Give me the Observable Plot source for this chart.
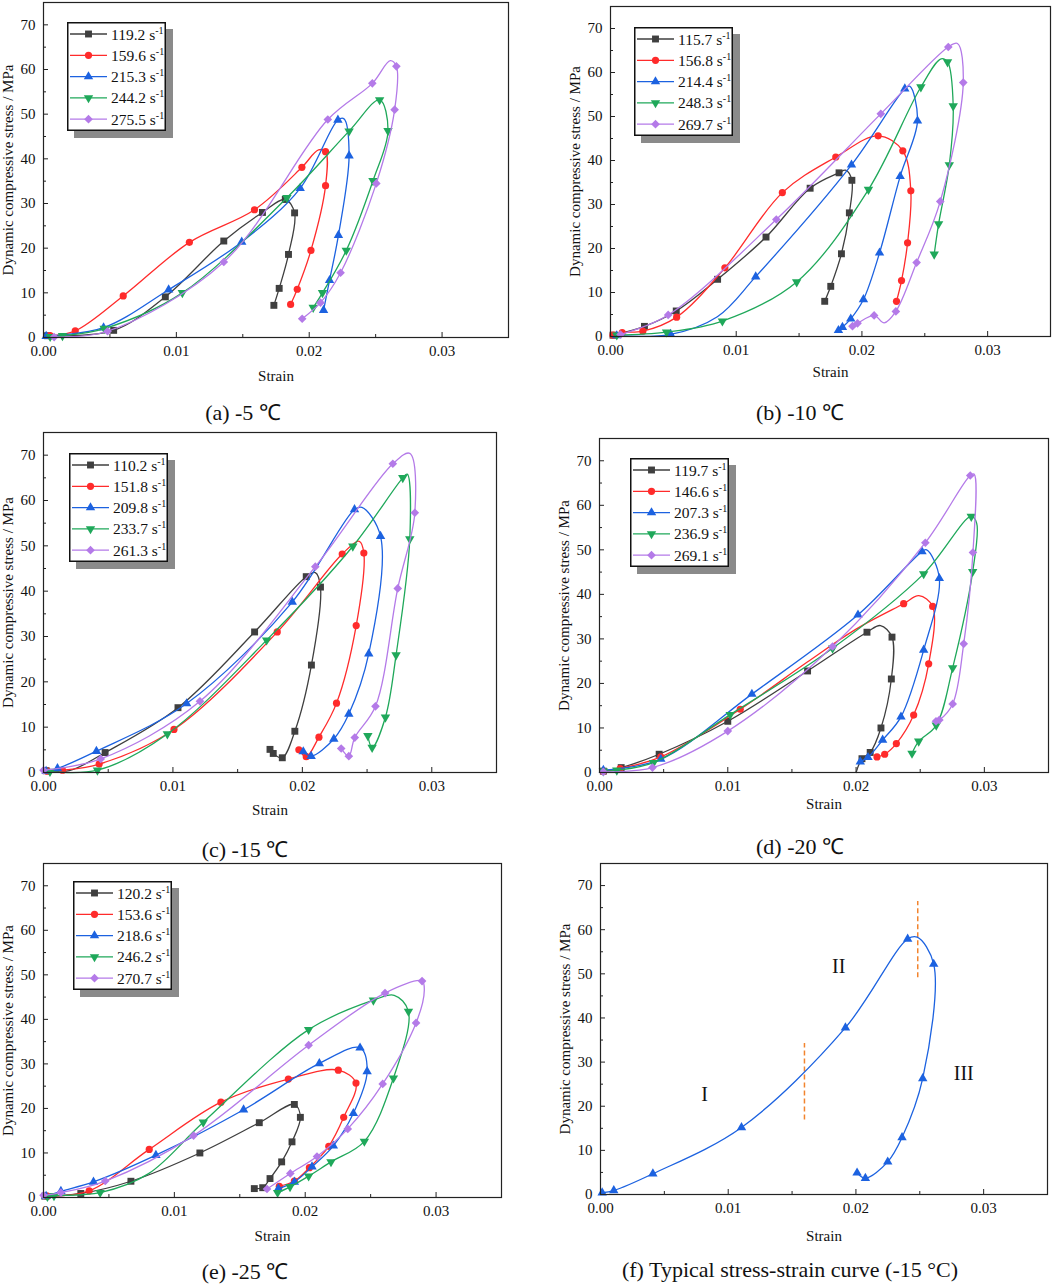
<!DOCTYPE html>
<html><head><meta charset="utf-8">
<script src="https://cdn.jsdelivr.net/npm/d3@7"></script>
<script src="https://cdn.jsdelivr.net/npm/@observablehq/plot@0.6"></script>
<style>
body{margin:0;background:#fff;}
#root{position:relative;width:1052px;height:1284px;overflow:hidden;font-family:"Liberation Serif","Times New Roman",serif;}
.panel{position:absolute;}
.cap{position:absolute;font-size:22px;white-space:nowrap;transform:translate(-50%,-50%);color:#111;}
.legend{position:absolute;overflow:visible;}
</style></head><body><div id="root"></div>
<script>
// ---- data: [strain, stress] = marked point, [strain, stress, 0] = curve-only point ----
const rates_a = ["119.2","159.6","215.3","244.2","275.5"];
const curves_a = [
 [[0.0003,0.4],[0.00528,1.6],[0.00917,9.1],[0.01357,21.6],[0.01648,28.0],[0.0182,30.9],[0.0189,27.9],[0.01844,18.6],[0.01774,11.0],[0.01734,7.2]],
 [[0.0005,0.4],[0.00239,1.5],[0.0060,9.3],[0.01098,21.3],[0.01588,28.6],[0.01945,38.1],[0.0207,42.0,0],[0.02123,41.6],[0.02123,34.0],[0.02013,19.5],[0.0191,10.8],[0.0186,7.4]],
 [[0.0002,0.3],[0.00452,2.2],[0.00942,10.7],[0.01492,21.4],[0.01932,33.4],[0.02216,48.7],[0.0226,49.0,0],[0.0230,40.7],[0.0222,22.9],[0.02153,12.8],[0.02108,6.1]],
 [[0.0005,0.2],[0.00143,0.4],[0.00457,2.0],[0.01045,10.0],[0.01832,31.3],[0.0230,46.2],[0.0253,53.2],[0.02593,46.3],[0.0248,35.1],[0.02279,19.5],[0.0210,10.0],[0.0203,6.7]],
 [[0.0008,0.1],[0.00482,1.4],[0.01357,16.9],[0.0214,48.8],[0.02475,56.9],[0.0261,62.0,0],[0.02656,60.7],[0.02643,51.0],[0.02505,34.5],[0.02236,14.5],[0.02085,7.8],[0.01947,4.2]]
];
const rates_b = ["115.7","156.8","214.4","248.3","269.7"];
const curves_b = [
 [[0.0002,0.3],[0.0027,2.3],[0.00523,5.8],[0.00852,13.0],[0.01237,22.6],[0.01588,33.7],[0.01818,37.2],[0.0187,37.8,0],[0.0192,35.5],[0.0190,28.1],[0.01837,18.8],[0.01752,11.4],[0.01704,8.0]],
 [[0.0002,0.3],[0.00093,0.9],[0.00257,1.2],[0.00526,4.4],[0.0091,15.6],[0.01367,32.7],[0.01792,40.8],[0.02129,45.6],[0.02325,42.2],[0.02389,33.1],[0.02363,21.3],[0.02315,12.7],[0.02275,8.0]],
 [[0.0005,0.2],[0.00478,0.5],[0.0085,4.5,0],[0.01155,13.6],[0.01917,39.0],[0.02341,56.3],[0.0238,56.9,0],[0.02442,49.0],[0.02304,36.4],[0.0214,19.0],[0.02012,8.4],[0.01911,4.0],[0.01845,2.1],[0.01813,1.4]],
 [[0.0005,0.3],[0.00446,1.0],[0.0089,3.5],[0.01481,12.4],[0.02052,33.4],[0.02469,56.7],[0.0263,63.1,0],[0.02681,62.4],[0.02726,52.4],[0.02695,39.0],[0.0261,25.6],[0.02575,18.7]],
 [[0.0008,0.45],[0.00459,4.9],[0.01319,26.6],[0.0215,50.6],[0.02687,65.8],[0.0276,66.6,0],[0.02806,57.7],[0.02623,30.7],[0.02435,16.8],[0.0227,5.7],[0.02177,3.1,0],[0.02097,4.8],[0.01965,3.0],[0.01925,2.35]]
];
const rates_c = ["110.2","151.8","209.8","233.7","261.3"];
const curves_c = [
 [[0.0002,0.4],[0.002,0.4,0],[0.00476,4.4],[0.01039,14.3],[0.01631,31.0],[0.0203,43.2],[0.0210,44.1,0],[0.0214,40.9],[0.0207,23.7],[0.01942,9.1],[0.01845,3.25],[0.01775,4.2],[0.0175,5.1]],
 [[0.0003,0.3],[0.00147,0.5],[0.0043,1.85],[0.01008,9.5],[0.01806,31.0],[0.02308,48.2],[0.0244,51.0,0],[0.02475,48.4],[0.02416,32.4],[0.02264,15.3],[0.02128,7.8],[0.0203,3.5],[0.01973,5.0]],
 [[0.0002,0.3],[0.00108,0.9],[0.00409,4.7],[0.01106,15.2],[0.01922,37.6],[0.02403,58.0],[0.0246,58.5,0],[0.02604,52.1],[0.02513,26.2],[0.02359,12.9],[0.02243,7.4],[0.02068,3.6],[0.02007,4.6]],
 [[0.0005,0.2],[0.00417,0.5],[0.00957,8.5],[0.01724,29.2],[0.0239,49.9],[0.02776,65.0],[0.0281,65.8,0],[0.0283,51.5],[0.02724,25.9],[0.02642,12.2],[0.02539,5.5],[0.02506,8.1]],
 [[0.0,0.5],[0.00442,3.0],[0.01209,15.7],[0.0210,45.4],[0.02699,68.1],[0.0283,70.4,0],[0.02869,57.3],[0.02737,40.6],[0.02565,14.6],[0.02405,7.7],[0.02359,3.6],[0.023,5.3]]
];
const rates_d = ["119.7","146.6","207.3","236.9","269.1"];
const curves_d = [
 [[0.0003,0.3],[0.00169,1.1],[0.00465,4.1],[0.0100,11.5],[0.01622,22.8],[0.02085,31.5],[0.0219,33.0,0],[0.0228,30.4],[0.02275,21.0],[0.02194,10.0],[0.0211,4.5],[0.02046,3.1],[0.0200,0,0]],
 [[0.0003,0.3],[0.00161,0.9],[0.00478,3.5],[0.01097,14.2],[0.0162,24.8,0],[0.0200,32.2,0],[0.02371,37.9],[0.0249,39.7,0],[0.02597,37.3],[0.02566,24.4],[0.02449,12.9],[0.02314,6.5],[0.02223,4.1],[0.02163,3.5]],
 [[0.0003,0.5],[0.00478,3.0],[0.01188,17.6],[0.02015,35.4],[0.02514,49.6],[0.0255,50.0,0],[0.02649,43.6],[0.02527,27.5],[0.0235,12.5],[0.02207,7.3],[0.02093,3.4],[0.02033,2.4]],
 [[0.0003,0.3],[0.00135,0.5],[0.00421,2.2],[0.01019,13.0],[0.01817,27.9],[0.02527,44.6],[0.02898,57.5],[0.0294,56.0,0],[0.02909,45.1],[0.02753,23.5],[0.02625,10.6],[0.02488,7.0],[0.02436,4.3]],
 [[0.0003,0.15],[0.00413,1.1],[0.0100,9.3],[0.01817,28.3],[0.0254,51.6],[0.0289,66.7],[0.0292,67.0,0],[0.02911,49.4],[0.02839,28.9],[0.02753,15.4],[0.02649,11.8],[0.02623,11.5]]
];
const rates_e = ["120.2","153.6","218.6","246.2","270.7"];
const curves_e = [
 [[0.0001,0.3],[0.00285,0.9],[0.00668,3.65],[0.01195,10.0],[0.01649,16.8],[0.01917,20.9],[0.01963,18.0],[0.01899,12.5],[0.0182,8.0],[0.01731,4.25],[0.01675,2.2],[0.01611,2.0]],
 [[0.0003,0.3],[0.00349,1.5],[0.00808,10.8],[0.01356,21.4],[0.01871,26.6],[0.02253,28.6],[0.02388,25.7],[0.02294,18.0],[0.0218,11.5],[0.02032,6.7],[0.01917,3.7],[0.01802,2.5]],
 [[0.0002,0.3],[0.00133,1.4],[0.00382,3.5],[0.00859,9.5],[0.01529,19.7],[0.02108,30.1],[0.02419,33.6],[0.02473,28.3],[0.02368,18.9],[0.02215,11.6],[0.02052,6.9],[0.01917,3.5],[0.01795,2.0]],
 [[0.0003,0.2],[0.0008,0.4],[0.00433,1.1],[0.0080,5.3,0],[0.01221,16.9],[0.02026,37.7],[0.02521,44.3],[0.0268,45.4,0],[0.02789,41.8],[0.02674,26.8],[0.02452,12.6],[0.02197,8.0],[0.02026,4.8],[0.01884,2.4],[0.01789,1.1]],
 [[0.0,0.5],[0.00133,1.1],[0.00472,3.7],[0.01147,13.9],[0.02026,34.2],[0.0261,45.9],[0.02893,48.6],[0.0291,46.5,0],[0.02847,39.2],[0.02592,25.5],[0.02325,15.4],[0.0209,9.2],[0.01886,5.4],[0.01708,1.9]]
];
const curve_f = [[0.00013,0.4],[0.00104,0.9],[0.0041,4.7],[0.01104,15.2],[0.01918,37.8],[0.02405,57.9],[0.0248,58.3,0],[0.02609,52.2],[0.02523,26.3],[0.02361,12.9],[0.02249,7.4],[0.02074,3.7],[0.02009,4.9]];
const dividers_f = [[0.01597,16.9,34.2],[0.02484,49.1,66.4]];
const stages_f = [["I",0.00814,22.7],["II",0.01865,51.7],["III",0.02844,27.5]];
const captions = ["(a) -5 \u2103","(b) -10 \u2103","(c) -15 \u2103","(d) -20 \u2103","(e) -25 \u2103","(f) Typical stress-strain curve (-15 \u00b0C)"];
const xMajor = [0, 0.01, 0.02, 0.03];
const xMinor = [0.005, 0.015, 0.025];
const yMajor = [0,10,20,30,40,50,60,70];
const yMinor = [5,15,25,35,45,55,65];
const xLabel = "Strain";
const yLabel = "Dynamic compressive stress / MPa";

// ---- styles ----
const triDown = {draw(ctx, size){const y = Math.sqrt(size/(Math.sqrt(3)*3)); const s3 = Math.sqrt(3); ctx.moveTo(0, 2*y); ctx.lineTo(-s3*y, -y); ctx.lineTo(s3*y, -y); ctx.closePath();}};
const colors = ["#3f3f3f","#ff2b2b","#1c62e0","#1fa85a","#b47ae8"];
const symbols = ["square","circle","triangle",triDown,"diamond2"];
const d3symbols = [d3.symbolSquare, d3.symbolCircle, d3.symbolTriangle, triDown, d3.symbolDiamond2];
const radii = [3.9,3.6,3.5,3.5,3.9];
const FONT = '"Liberation Serif","Times New Roman",serif';

const layout = [
 {sx:0,   sy:0,   w:515, h:390, ml:43, mt:2,  mr:7,  mb:53, xl:38.5},
 {sx:540, sy:0,   w:512, h:390, ml:70, mt:6,  mr:2,  mb:54, xl:36},
 {sx:0,   sy:425, w:515, h:395, ml:43, mt:7,  mr:19, mb:48, xl:38},
 {sx:540, sy:425, w:512, h:395, ml:59, mt:13, mr:4,  mb:48, xl:32},
 {sx:0,   sy:855, w:515, h:395, ml:43, mt:8,  mr:14, mb:53, xl:39},
 {sx:540, sy:855, w:512, h:395, ml:60, mt:8,  mr:5,  mb:56, xl:42}
];
const legendPos = [[67,22],[634,27],[69,453],[630,458],[73,881]];
const capPos = [[243,411],[800,411],[245,848],[800,845],[245,1270],[790,1270]];

const root = document.getElementById("root");
const X = d => d[0], Y = d => d[1];

function seriesMarks(curve, i){
  return [
    Plot.line(curve, {x: X, y: Y, stroke: colors[i], strokeWidth: 1.3, curve: "catmull-rom"}),
    Plot.dot(curve.filter(d => d[2] !== 0), {x: X, y: Y, symbol: symbols[i], r: radii[i], fill: colors[i], stroke: "none"})
  ];
}

function panel(k, curves, extra){
  const L = layout[k];
  const marks = [
    Plot.axisX({ticks: xMajor, tickSize: 0, tickPadding: 8, tickFormat: d3.format(".2f"), label: null, fontSize: 15, fontFamily: FONT}),
    Plot.axisX({ticks: xMajor, tickSize: -5, tickFormat: () => "", label: null, stroke: "#222"}),
    Plot.axisX({ticks: xMinor, tickSize: -3, tickFormat: () => "", label: null, stroke: "#222"}),
    Plot.axisY({ticks: yMajor, tickSize: 0, tickPadding: 8, label: null, fontSize: 15, fontFamily: FONT}),
    Plot.axisY({ticks: yMajor, tickSize: -5, tickFormat: () => "", label: null, stroke: "#222"}),
    Plot.axisY({ticks: yMinor, tickSize: -3, tickFormat: () => "", label: null, stroke: "#222"}),
    Plot.text([xLabel], {text: d => d, frameAnchor: "bottom", textAnchor: "middle", lineAnchor: "middle", dy: L.xl, fontSize: 15, fontFamily: FONT, fill: "#111"}),
    Plot.text([yLabel], {text: d => d, frameAnchor: "left", textAnchor: "middle", lineAnchor: "middle", rotate: -90, dx: -35, fontSize: 15, fontFamily: FONT, fill: "#111"}),
    ...(extra || []),
    ...curves.flatMap((c, i) => seriesMarks(c, i)),
    Plot.frame({stroke: "#222", strokeWidth: 1.2})
  ];
  const svg = Plot.plot({
    width: L.w, height: L.h,
    marginLeft: L.ml, marginTop: L.mt, marginRight: L.mr, marginBottom: L.mb,
    x: {domain: [0, 0.035]},
    y: {domain: [0, 75]},
    style: {fontFamily: FONT, fontSize: "15px", background: "transparent", color: "#111", overflow: "visible"},
    marks
  });
  svg.classList.add("panel");
  svg.style.left = L.sx + "px";
  svg.style.top = L.sy + "px";
  root.appendChild(svg);
}

function legend(k, rates){
  const [lx, ly] = legendPos[k];
  const W = 99, H = 109, off = 7;
  const svg = d3.create("svg").attr("class", "legend").attr("width", W + off + 2).attr("height", H + off + 2)
    .style("left", lx + "px").style("top", ly + "px");
  svg.append("rect").attr("x", off).attr("y", off).attr("width", W).attr("height", H).attr("fill", "#8a8a8a");
  svg.append("rect").attr("x", 0.75).attr("y", 0.75).attr("width", W - 1.5).attr("height", H - 1.5).attr("fill", "#fff").attr("stroke", "#111").attr("stroke-width", 1.5);
  rates.forEach((r, i) => {
    const cy = 12 + i * 21.3;
    svg.append("line").attr("x1", 3).attr("x2", 40).attr("y1", cy).attr("y2", cy).attr("stroke", colors[i]).attr("stroke-width", 1.3);
    svg.append("path").attr("transform", `translate(21.5,${cy})`).attr("d", d3.symbol(d3symbols[i], Math.PI * radii[i] * radii[i])()).attr("fill", colors[i]);
    const t = svg.append("text").attr("x", 44).attr("y", cy + 5.5).attr("font-family", FONT).attr("font-size", 15.5).attr("fill", "#111");
    t.append("tspan").text(r + " s");
    t.append("tspan").attr("dy", -6).attr("font-size", 10).text("-1");
  });
  root.appendChild(svg.node());
}

const all = [[curves_a, rates_a],[curves_b, rates_b],[curves_c, rates_c],[curves_d, rates_d],[curves_e, rates_e]];
all.forEach(([c, r], k) => { panel(k, c); legend(k, r); });

// panel (f): single typical curve (blue style)
panel(5, [], [
  Plot.ruleX(dividers_f, {x: d => d[0], y1: d => d[1], y2: d => d[2], stroke: "#f2842e", strokeWidth: 1.5, strokeDasharray: "5,3"}),
  Plot.text(stages_f, {x: d => d[1], y: d => d[2], text: d => d[0], fontSize: 20, fontFamily: FONT, fill: "#111"}),
  Plot.line(curve_f, {x: X, y: Y, stroke: colors[2], strokeWidth: 1.3, curve: "catmull-rom"}),
  Plot.dot(curve_f.filter(d => d[2] !== 0), {x: X, y: Y, symbol: symbols[2], r: radii[2], fill: colors[2], stroke: "none"})
]);

captions.forEach((c, k) => {
  const d = document.createElement("div");
  d.className = "cap";
  d.textContent = c;
  d.style.left = capPos[k][0] + "px";
  d.style.top = capPos[k][1] + "px";
  root.appendChild(d);
});
</script></body></html>
